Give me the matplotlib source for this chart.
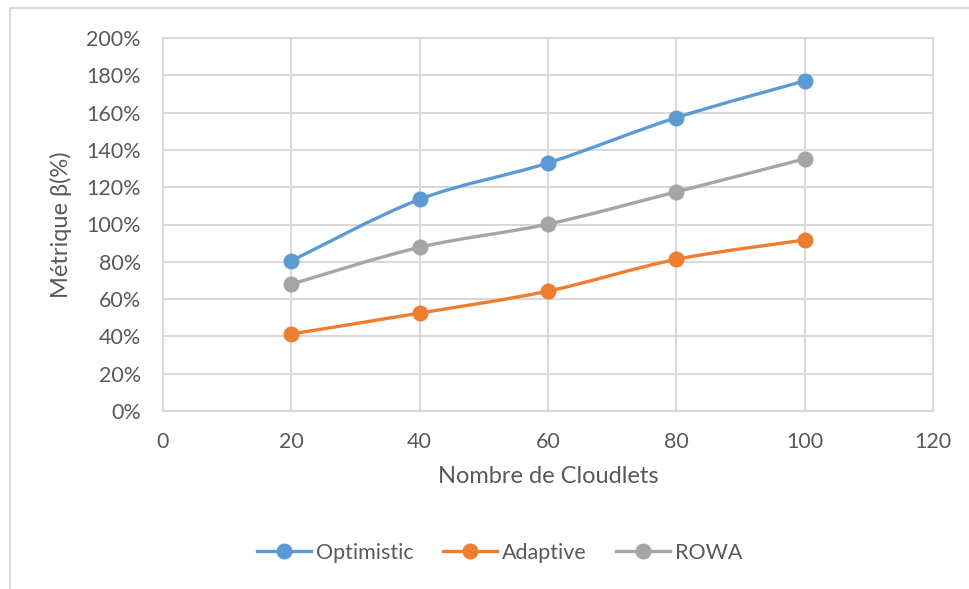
import matplotlib
matplotlib.use("Agg")
import matplotlib.pyplot as plt
from matplotlib.path import Path
from matplotlib.patches import PathPatch, Rectangle
from matplotlib.lines import Line2D
from matplotlib.ticker import PercentFormatter

cloudlets = [20, 40, 60, 80, 100]
optimistic = [80.5, 113.5, 133, 157.3, 177]
adaptive = [41.3, 52.5, 64.3, 81.3, 91.7]
rowa = [68, 87.8, 100.2, 117.5, 135.2]

series = [("Optimistic", optimistic, "#5B9BD5"),
          ("Adaptive", adaptive, "#ED7D31"),
          ("ROWA", rowa, "#A5A5A5")]

text_color = "#595959"
grid_color = "#D9D9D9"
plt.rcParams["font.family"] = ["Lato", "DejaVu Sans"]


def smooth_path(xs, ys):
    # cubic bezier segments through every point (catmull-rom tangents)
    verts = [(xs[0], ys[0])]
    codes = [Path.MOVETO]
    n = len(xs)
    for i in range(n - 1):
        x0, y0 = (xs[i - 1], ys[i - 1]) if i > 0 else (xs[i], ys[i])
        x1, y1 = xs[i], ys[i]
        x2, y2 = xs[i + 1], ys[i + 1]
        x3, y3 = (xs[i + 2], ys[i + 2]) if i + 2 < n else (x2, y2)
        c1 = (x1 + (x2 - x0) / 6, y1 + (y2 - y0) / 6)
        c2 = (x2 - (x3 - x1) / 6, y2 - (y3 - y1) / 6)
        verts += [c1, c2, (x2, y2)]
        codes += [Path.CURVE4] * 3
    return Path(verts, codes)


fig = plt.figure(figsize=(9.7, 5.89), dpi=100)
fig.add_artist(Rectangle((10 / 970, -0.1), 1.2, 1 - 8 / 589 + 0.1,
                         transform=fig.transFigure, fill=False,
                         edgecolor=grid_color, linewidth=1.5))
ax = fig.add_axes([163 / 970, 1 - 411 / 589, 770 / 970, 373 / 589])

handles = []
for name, vals, color in series:
    ax.add_patch(PathPatch(smooth_path(cloudlets, vals), facecolor="none",
                           edgecolor=color, linewidth=2.4, zorder=3,
                           capstyle="round", joinstyle="round"))
    ax.plot(cloudlets, vals, linestyle="none", marker="o", markersize=10.5,
            color=color, zorder=4)
    handles.append(Line2D([], [], color=color, linewidth=2.4, marker="o",
                          markersize=10.5, label=name))

ax.set_xlim(0, 120)
ax.set_ylim(0, 200)
ax.set_xticks(range(0, 121, 20))
ax.set_yticks(range(0, 201, 20))
ax.yaxis.set_major_formatter(PercentFormatter(decimals=0))
ax.grid(True, color=grid_color, linewidth=1.5)
ax.set_axisbelow(True)
for spine in ax.spines.values():
    spine.set_color(grid_color)
    spine.set_linewidth(1.5)
ax.tick_params(length=0, labelsize=15.5, colors=text_color)
ax.tick_params(axis="y", pad=16)
ax.tick_params(axis="x", pad=15)

ax.set_xlabel("Nombre de Cloudlets", fontsize=17, color=text_color, labelpad=10)
ax.set_ylabel("Métrique β(%)", fontsize=17, color=text_color, labelpad=10)

fig.legend(handles=handles, loc="center", bbox_to_anchor=(500 / 970, 1 - 553 / 589),
           ncol=3, frameon=False, fontsize=15.5, labelcolor=text_color,
           handlelength=2.5, handletextpad=0.25, columnspacing=1.35)

fig.savefig("out.png", dpi=100)
